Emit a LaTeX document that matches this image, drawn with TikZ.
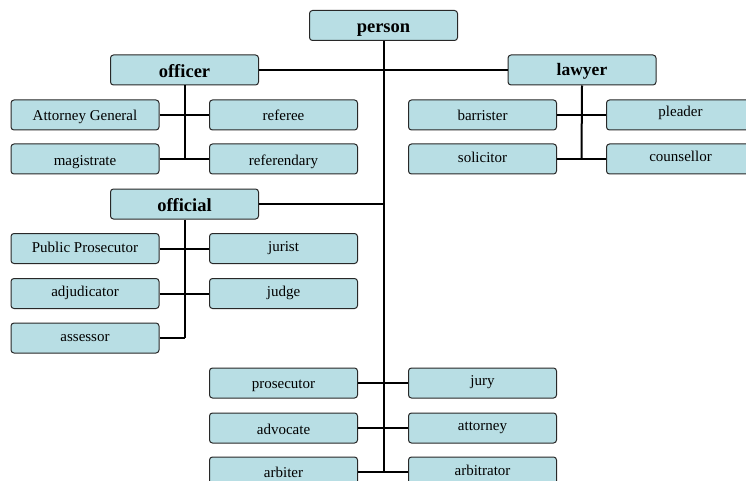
\documentclass[tikz,border=0pt]{standalone}
\usepackage{fontspec}
\setmainfont{Liberation Serif}
\definecolor{boxfill}{RGB}{184,222,228}
\definecolor{boxline}{RGB}{40,40,40}
\begin{document}
\begin{tikzpicture}[x=1pt,y=-1pt,
  box/.style={draw=boxline,fill=boxfill,line width=1pt,rounded corners=3pt,
    minimum width=148pt,minimum height=30pt,inner sep=0pt,
    text height=13.5pt,text depth=2.5pt,
    font=\fontsize{15}{17}\selectfont},
  head/.style={box,font=\fontsize{18.5}{20}\selectfont\bfseries},
  tb/.style 2 args={text height=#1pt,text depth=#2pt},
  link/.style={line width=2pt,black}]
\useasboundingbox (0,0) rectangle (746,481);
\clip (0,0) rectangle (746,481);
\coordinate (tend) at (383.5,472);
\coordinate (oend) at (184.5,159);
\coordinate (lend) at (581.5,159);
\coordinate (fend) at (184.5,338);
\node[head,tb={15.5}{0.5}] (person) at (383.5,25.5) {person};
\node[head,tb={16}{0}] (officer) at (184.5,70) {officer};
\node[box,font=\fontsize{17.5}{20}\selectfont\bfseries,tb={13.5}{2.5}] (lawyer) at (582,70) {lawyer};
\node[box] (ag) at (85,115) {Attorney General};
\node[box] (referee) at (283.5,115) {referee};
\node[box,tb={14}{2}] (magistrate) at (85,159) {magistrate};
\node[box,tb={14}{2}] (referendary) at (283.5,159) {referendary};
\node[box] (barrister) at (482.5,115) {barrister};
\node[box,tb={10}{6}] (pleader) at (680.5,115) {pleader};
\node[box,tb={12}{4}] (solicitor) at (482.5,159) {solicitor};
\node[box,tb={10.7}{5.3}] (counsellor) at (680.5,159) {counsellor};
\node[head,tb={15}{1}] (official) at (184.5,204) {official};
\node[box,tb={11.5}{4.5}] (pp) at (85,248.5) {Public Prosecutor};
\node[box,tb={11}{5}] (jurist) at (283.5,248.5) {jurist};
\node[box,tb={11}{5}] (adjudicator) at (85,293.5) {adjudicator};
\node[box,tb={10.5}{5.5}] (judge) at (283.5,293.5) {judge};
\node[box,tb={11.7}{4.3}] (assessor) at (85,338) {assessor};
\node[box,tb={13}{3}] (prosecutor) at (283.5,383) {prosecutor};
\node[box,tb={10}{6}] (jury) at (482.5,383) {jury};
\node[box,tb={14}{2}] (advocate) at (283.5,428) {advocate};
\node[box,tb={10}{6}] (attorney) at (482.5,428) {attorney};
\node[box,tb={13}{3}] (arbiter) at (283.5,472) {arbiter};
\node[box,tb={11}{5}] (arbitrator) at (482.5,472) {arbitrator};
\draw[link] (person.south) -- (tend);
\draw[link] (officer.east) -- (lawyer.west);
\draw[link] (official.east) -- (official.east -| person.south);
\draw[link] (officer.south) -- (oend);
\draw[link] (ag.east) -- (referee.west);
\draw[link] (magistrate.east) -- (referendary.west);
\draw[link] (lawyer.south) -- (lend);
\draw[link] (barrister.east) -- (pleader.west);
\draw[link] (solicitor.east) -- (counsellor.west);
\draw[link] (official.south) -- (fend);
\draw[link] (pp.east) -- (jurist.west);
\draw[link] (adjudicator.east) -- (judge.west);
\draw[link] (assessor.east) -- (fend);
\draw[link] (prosecutor.east) -- (jury.west);
\draw[link] (advocate.east) -- (attorney.west);
\draw[link] (arbiter.east) -- (arbitrator.west);
\end{tikzpicture}
\end{document}
